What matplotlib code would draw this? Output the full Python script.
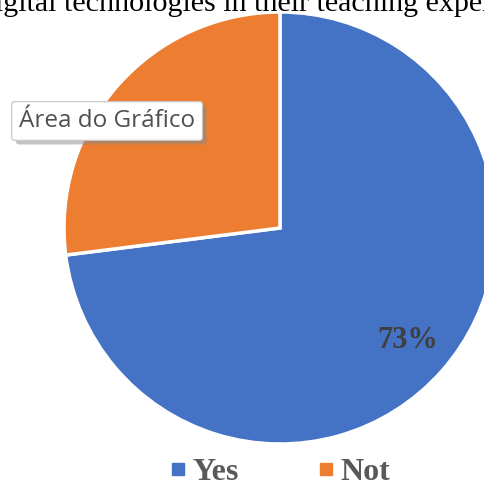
import numpy as np
import matplotlib.pyplot as plt
from matplotlib.lines import Line2D
import matplotlib.patheffects as pe

labels = ["Yes", "Not"]
values = [73, 27]
colors = ["#4472C4", "#ED7D31"]
title_text = "igital technologies in their teaching exper"
tooltip_text = "Área do Gráfico"

W, H = 485, 487
fig = plt.figure(figsize=(W / 100, H / 100), dpi=100)
ax = fig.add_axes([0, 0, 1, 1])

cx, cy, r = 280, H - 228, 216
ax.pie(values, colors=colors, startangle=90, counterclock=False,
       center=(cx, cy), radius=r, frame=True,
       wedgeprops=dict(edgecolor="white", linewidth=2.5))
ax.set_xlim(0, W)
ax.set_ylim(0, H)
ax.set_aspect("equal")
ax.axis("off")

# percentage label inside the big slice
mid = np.deg2rad(90 - values[0] / sum(values) * 360 / 2)
ax.text(cx + 0.79 * r * np.cos(mid), cy + 0.79 * r * np.sin(mid),
        f"{values[0]}%", ha="center", va="center", family="Liberation Serif",
        fontweight="bold", fontsize=22, color="#404040")

# title, cut by the top edge
fig.text(W / 2 + 1, H - 11, title_text, transform=None, ha="center",
         va="baseline", family="Liberation Serif", fontsize=21.6, color="black")

# tooltip box
t = ax.text(19, H - 121, tooltip_text, ha="left", va="center",
            family="Open Sans", fontsize=17.5, color="#505050",
            bbox=dict(boxstyle="round,pad=0.3,rounding_size=0.12", fc="white",
                      ec="#c8c8c8", lw=0.8))
t.get_bbox_patch().set_path_effects(
    [pe.withSimplePatchShadow(offset=(3, -3), shadow_rgbFace="#888888", alpha=0.5),
     pe.Normal()])

handles = [Line2D([], [], marker="s", linestyle="none", markersize=8.5,
                  markerfacecolor=c, markeredgecolor=c) for c in colors]
fig.legend(handles, labels, loc="center", bbox_to_anchor=(280 / W, 15 / H),
           ncol=2, frameon=False, handlelength=0.5, handletextpad=0.2,
           columnspacing=2.5,
           prop=dict(family="Liberation Serif", weight="bold", size=23),
           labelcolor="#595959")

plt.savefig("out.png", dpi=100)
